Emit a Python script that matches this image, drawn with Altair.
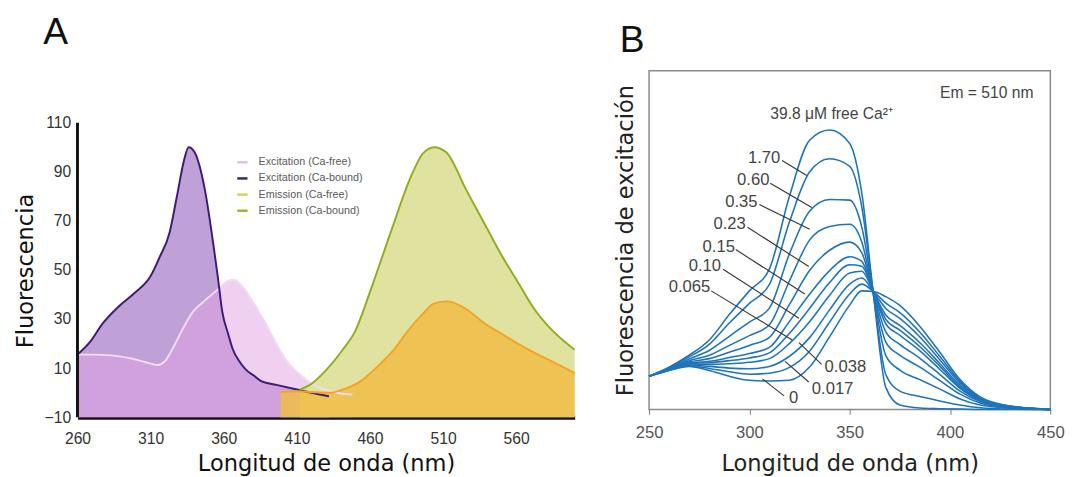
import altair as alt
import pandas as pd

# ---------------- Panel A data ----------------
A_SERIES = ["Excitation (Ca-free)", "Excitation (Ca-bound)", "Emission (Ca-free)", "Emission (Ca-bound)"]
A_X_TICKS = [260, 310, 360, 410, 460, 510, 560]
A_Y_TICKS = [-10, 10, 30, 50, 70, 90, 110]
A_X_DOMAIN = [260, 600]

exc_free_nm = [260, 270, 283, 296, 306, 315, 320, 326, 332, 339, 347, 355, 363, 367, 371, 379, 388, 396, 403, 411, 420, 430, 440, 448]
exc_free_f = [15.5, 15.5, 15.2, 14.0, 12.5, 11.3, 13.0, 19.0, 26.0, 33.0, 37.5, 41.5, 45.5, 46.0, 44.5, 38.0, 29.0, 20.0, 13.0, 8.0, 3.8, 1.0, -0.3, -0.7]

exc_bound_nm = [260, 269, 277, 288, 299, 310, 316, 323, 328, 333, 336, 340, 347, 353, 356, 359, 363, 366, 371, 375, 381, 386, 396, 410, 424, 432]
exc_bound_f = [15.5, 21.0, 28.0, 35.0, 40.6, 47.5, 55.0, 65.3, 80.0, 95.0, 100.0, 98.0, 83.0, 60.0, 47.0, 33.0, 24.0, 18.0, 12.5, 9.5, 6.8, 4.6, 3.2, 1.3, -0.5, -1.5]

em_free_nm = [399, 410, 422, 434, 441, 453, 464, 476, 486, 496, 504, 513, 526, 538, 550, 561, 572, 583, 600]
em_free_f = [0.2, 0.6, 0.2, 0.0, 1.2, 4.4, 10.0, 17.2, 25.2, 32.0, 36.4, 37.2, 34.0, 28.4, 24.0, 20.0, 16.4, 13.2, 8.0]

em_bound_nm = [412, 419, 430, 441, 450, 461, 475, 488, 496, 504, 512, 526, 538, 550, 561, 572, 583, 600]
em_bound_f = [1.2, 3.2, 9.2, 17.2, 25.2, 42.7, 66.7, 88.0, 97.3, 100.0, 98.0, 82.4, 69.2, 56.0, 45.2, 34.4, 26.4, 17.5]

# ---------------- Panel B data ----------------
B_NM = [250, 260, 270, 280, 290, 300, 310, 320, 330, 340, 350, 356, 362, 368, 375, 385, 395, 405, 415, 430, 450]
B_CONC = ["39.8", "1.70", "0.60", "0.35", "0.23", "0.15", "0.10", "0.065", "0.038", "0.017", "0"]
B_CURVES = [
    [9.8, 12.5, 16.0, 20.5, 28.0, 35.0, 41.5, 63.0, 79.5, 82.5, 78.5, 64.0, 33.0, 6.5, 1.3, 0.4, 0.2, 0.1, 0.0, 0.0, 0.0],
    [9.8, 12.4, 15.5, 19.2, 25.5, 31.3, 36.9, 55.4, 70.1, 74.0, 71.8, 59.9, 33.3, 10.3, 5.4, 3.8, 2.5, 1.3, 0.5, 0.1, 0.0],
    [9.8, 12.2, 14.9, 17.4, 21.6, 25.8, 29.9, 46.0, 58.5, 62.0, 61.8, 53.9, 33.6, 15.9, 11.6, 8.8, 6.0, 3.1, 1.3, 0.4, 0.0],
    [9.8, 12.0, 14.4, 16.0, 18.9, 21.8, 25.0, 38.0, 50.0, 54.0, 54.7, 49.5, 33.9, 19.9, 16.0, 12.5, 8.5, 4.5, 1.9, 0.5, 0.0],
    [9.8, 11.9, 14.0, 15.0, 16.9, 18.9, 21.3, 31.0, 41.0, 47.0, 49.4, 46.3, 34.1, 22.9, 19.2, 15.1, 10.3, 5.4, 2.3, 0.6, 0.0],
    [9.8, 11.8, 13.7, 14.2, 15.3, 16.5, 18.3, 26.0, 34.0, 41.0, 45.1, 43.7, 34.3, 25.3, 21.9, 17.3, 11.8, 6.2, 2.6, 0.7, 0.0],
    [9.8, 11.8, 13.5, 13.8, 14.4, 15.2, 16.7, 22.5, 29.8, 37.5, 42.7, 42.3, 34.4, 26.6, 23.4, 18.5, 12.7, 6.6, 2.8, 0.8, 0.0],
    [9.8, 11.7, 13.4, 13.3, 13.5, 13.9, 15.0, 19.5, 25.9, 33.7, 40.3, 40.8, 34.5, 27.9, 24.8, 19.7, 13.5, 7.1, 3.0, 0.8, 0.0],
    [9.8, 11.6, 13.1, 12.7, 12.2, 12.0, 12.7, 15.7, 21.2, 29.4, 37.0, 38.8, 34.6, 29.8, 26.9, 21.4, 14.6, 7.7, 3.2, 0.9, 0.0],
    [9.8, 11.6, 12.9, 12.1, 11.1, 10.4, 10.7, 12.4, 17.2, 25.8, 34.1, 37.0, 34.7, 31.4, 28.6, 22.8, 15.6, 8.2, 3.4, 0.9, 0.0],
    [9.8, 11.5, 12.7, 11.5, 9.8, 8.6, 8.4, 8.6, 12.5, 21.5, 30.8, 35.0, 34.8, 33.3, 30.7, 24.5, 16.8, 8.8, 3.7, 1.0, 0.0],
]
B_X_TICKS = [250, 300, 350, 400, 450]
B_X_DOMAIN = [250, 450]
B_Y_DOMAIN = [0, 100]

# curve labels (upper group right-aligned, lower group left-aligned)
lab_hi_text = ["1.70", "0.60", "0.35", "0.23", "0.15", "0.10", "0.065"]
lab_hi_x = [315.4, 310.0, 304.1, 298.2, 292.8, 285.9, 280.5]
lab_hi_y = [74.3, 67.7, 61.3, 54.7, 48.0, 42.2, 36.2]
lab_lo_text = ["0.038", "0.017", "0"]
lab_lo_x = [337.5, 331.1, 319.8]
lab_lo_y = [12.4, 6.1, 3.2]
# leader lines
lead_x1 = [316.3, 310.4, 305.0, 299.1, 293.2, 286.9, 281.0, 324.7, 317.8, 306.5]
lead_y1 = [73.5, 66.8, 60.5, 53.8, 47.2, 41.4, 35.0, 19.7, 14.2, 9.0]
lead_x2 = [328.6, 331.1, 330.1, 329.6, 327.6, 324.7, 321.3, 336.0, 329.6, 317.3]
lead_y2 = [69.1, 59.6, 53.2, 42.2, 34.1, 26.9, 20.5, 13.3, 8.1, 4.0]

head_text = ["39.8 \u03bcM free Ca\u00b2\u207a"]
head_x = [341.0]
head_y = [87.2]
em_text = ["Em = 510 nm"]
em_x = [441.6]
em_y = [93.4]

PANEL_LABELS = ["A", "B"]

# ---------------- styling ----------------
SANS = "Liberation Sans, Arial, sans-serif"
TITLEF = "DejaVu Sans, Verdana, sans-serif"

A_W, A_H = 508, 354
B_W, B_H = 410, 346
A_TOP = A_Y_TICKS[-1] + (A_H - 301) * (A_Y_TICKS[-1] - A_Y_TICKS[0]) / 301.0

def df(nm, vals, name):
    return pd.DataFrame({"nm": nm, "f": vals, "s": name})

d_ef = df(exc_free_nm, exc_free_f, A_SERIES[0])
d_eb = df(exc_bound_nm, exc_bound_f, A_SERIES[1])
d_mf = df(em_free_nm, em_free_f, A_SERIES[2])
d_mb = df(em_bound_nm, em_bound_f, A_SERIES[3])
d_all = pd.concat([d_ef, d_eb, d_mf, d_mb])

xA = alt.X("nm:Q", scale=alt.Scale(domain=A_X_DOMAIN, nice=False, zero=False),
           axis=alt.Axis(values=A_X_TICKS, title="Longitud de onda (nm)", grid=False,
                         domain=True, domainColor="#111", domainWidth=4, ticks=False,
                         labelFlush=False, labelFont=SANS, labelFontSize=16, labelColor="#333",
                         labelPadding=14, titleFont=TITLEF, titleFontSize=23,
                         titleFontWeight="normal", titleColor="#111", titlePadding=6))
yA = alt.Y("f:Q", scale=alt.Scale(domain=[A_Y_TICKS[0], A_TOP], nice=False, zero=False),
           axis=alt.Axis(values=A_Y_TICKS, title="Fluorescencia", grid=False, domain=False,
                         ticks=False, labelFlush=False, labelFont=SANS, labelFontSize=16,
                         labelColor="#333", labelPadding=7, titleFont=TITLEF, titleFontSize=23,
                         titleFontWeight="normal", titleColor="#111", titlePadding=7,
                         titleY=A_H - 150))
base_y2 = alt.datum(A_Y_TICKS[0])

def area(d, color, op):
    return alt.Chart(d).mark_area(color=color, opacity=op, interpolate="monotone").encode(
        x=xA, y=yA, y2=base_y2)

def line(d, color, w=2.0):
    return alt.Chart(d).mark_line(color=color, strokeWidth=w, interpolate="monotone").encode(x=xA, y=yA)

legend_layer = alt.Chart(d_all).mark_line(strokeWidth=0, opacity=0).encode(
    x=xA, y=yA,
    color=alt.Color("s:N", scale=alt.Scale(domain=A_SERIES,
                                           range=["#dcc3e3", "#3d2180", "#ddd245", "#99b92c"]),
                    legend=alt.Legend(orient="none", legendX=162, legendY=87, title=None,
                                      symbolType="stroke", symbolSize=110, symbolStrokeWidth=2.5,
                                      symbolOpacity=1, labelFont=SANS, labelFontSize=11,
                                      labelColor="#5a5a5a", rowPadding=4.5, labelOffset=10,
                                      padding=0)))

yaxis_rule = alt.Chart(pd.DataFrame({"f": [A_Y_TICKS[0]], "f2": [A_Y_TICKS[-1]]})).mark_rule(
    color="#111", strokeWidth=3).encode(x=alt.value(0), y=yA, y2="f2:Q")

def panel_label(letter, dx, dy):
    return alt.Chart(pd.DataFrame({"t": [letter]})).mark_text(
        align="left", baseline="alphabetic", font=SANS, fontSize=38, color="#111"
    ).encode(x=alt.value(dx), y=alt.value(dy), text="t:N")

panelA = alt.layer(
    area(d_eb, "#bfa1d8", 1.0),
    area(d_ef, "#e1a1e1", 0.5),
    area(d_mb, "#dfe39f", 1.0),
    area(d_mf, "#f1bd46", 0.85),
    line(d_ef, "#f1dcf1", 2.0),
    line(d_eb, "#3b1c78", 2.0),
    line(d_mb, "#8fae1f", 2.0),
    line(d_mf, "#f3a325", 2.0),
    legend_layer,
    yaxis_rule,
    panel_label(PANEL_LABELS[0], -35, -27),
).properties(width=A_W, height=A_H)

# ---------------- Panel B ----------------
rows = []
for c, vals in zip(B_CONC, B_CURVES):
    for n, v in zip(B_NM, vals):
        rows.append({"nm": n, "f": v, "c": c})
d_b = pd.DataFrame(rows)

xB = alt.X("nm:Q", scale=alt.Scale(domain=B_X_DOMAIN, nice=False, zero=False),
           axis=alt.Axis(values=B_X_TICKS, title="Longitud de onda (nm)", grid=False,
                         domain=False, ticks=True, tickSize=5, tickColor="#777",
                         labelFlush=False, labelFont=SANS, labelFontSize=17, labelColor="#555",
                         labelPadding=11, titleFont=TITLEF, titleFontSize=23,
                         titleFontWeight="normal", titleColor="#222", titlePadding=12))
yB = alt.Y("f:Q", scale=alt.Scale(domain=B_Y_DOMAIN, nice=False, zero=False),
           axis=alt.Axis(labels=False, ticks=False, domain=False, grid=False,
                         title="Fluorescencia de excitaci\u00f3n", titleFont=TITLEF,
                         titleFontSize=23, titleFontWeight="normal", titleColor="#222",
                         titlePadding=12))

curves = alt.Chart(d_b).mark_line(color="#1f74b9", strokeWidth=1.6, interpolate="monotone").encode(
    x=xB, y=yB, detail="c:N")

d_lead = pd.DataFrame({"nm": lead_x1, "f": lead_y1, "nm2": lead_x2, "f2": lead_y2})
leaders = alt.Chart(d_lead).mark_rule(color="#333", strokeWidth=1.1).encode(
    x=xB, y=yB, x2="nm2:Q", y2="f2:Q")

d_hi = pd.DataFrame({"nm": lab_hi_x, "f": lab_hi_y, "t": lab_hi_text})
d_lo = pd.DataFrame({"nm": lab_lo_x, "f": lab_lo_y, "t": lab_lo_text})
lab_hi = alt.Chart(d_hi).mark_text(align="right", baseline="middle", font=SANS, fontSize=17,
                                   color="#444").encode(x=xB, y=yB, text="t:N")
lab_lo = alt.Chart(d_lo).mark_text(align="left", baseline="middle", font=SANS, fontSize=17,
                                   color="#444").encode(x=xB, y=yB, text="t:N")
d_head = pd.DataFrame({"nm": head_x, "f": head_y, "t": head_text})
head = alt.Chart(d_head).mark_text(align="center", baseline="middle", font=SANS, fontSize=16,
                                   color="#444").encode(x=xB, y=yB, text="t:N")
d_em = pd.DataFrame({"nm": em_x, "f": em_y, "t": em_text})
emt = alt.Chart(d_em).mark_text(align="right", baseline="middle", font=SANS, fontSize=16,
                                color="#444").encode(x=xB, y=yB, text="t:N")

panelB = alt.layer(curves, leaders, lab_hi, lab_lo, head, emt,
                   panel_label(PANEL_LABELS[1], -30, -19)).properties(
    width=B_W, height=B_H,
    view=alt.ViewBackground(stroke="#8a8a8a", strokeWidth=1.5),
)

chart = alt.hconcat(panelA, panelB, spacing=76, bounds="flush").properties(
    padding={"left": 6, "top": 2, "right": 0, "bottom": 0}
).configure_view(strokeWidth=0)

chart.save("out.html", embed_options={"renderer": "svg", "actions": False})
